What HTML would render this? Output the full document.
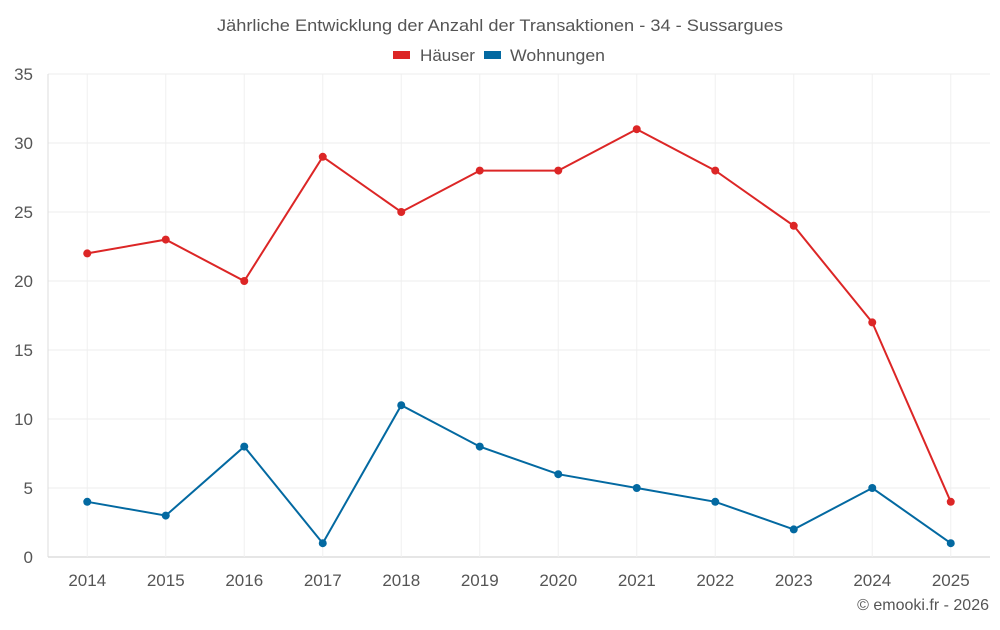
<!DOCTYPE html>
<html><head><meta charset="utf-8">
<style>
body{margin:0;background:#fff;width:1000px;height:625px;overflow:hidden;font-family:"Liberation Sans",sans-serif;}
svg text{font-family:"Liberation Sans",sans-serif;}
</style></head>
<body>
<svg id="chart" width="1000" height="625" viewBox="0 0 1000 625" xmlns="http://www.w3.org/2000/svg">
<text x="217" y="31" font-size="17" fill="#555" textLength="566" lengthAdjust="spacingAndGlyphs">Jährliche Entwicklung der Anzahl der Transaktionen - 34 - Sussargues</text>
<g>
<g><rect x="393" y="51" width="17" height="8" fill="#dc2626"/><text x="420" y="61" font-size="17" fill="#555" textLength="55" lengthAdjust="spacingAndGlyphs">Häuser</text></g>
<g><rect x="484" y="51" width="17" height="8" fill="#0369a1"/><text x="510" y="61" font-size="17" fill="#555" textLength="95" lengthAdjust="spacingAndGlyphs">Wohnungen</text></g>
</g>
<g id="grid"></g><g id="axes"></g><g id="series"></g>
<text x="989" y="610" text-anchor="end" font-size="16" fill="#555">© emooki.fr - 2026</text>
</svg>
<script>
const categories=["2014","2015","2016","2017","2018","2019","2020","2021","2022","2023","2024","2025"];
const haeuser=[22,23,20,29,25,28,28,31,28,24,17,4];
const wohnungen=[4,3,8,1,11,8,6,5,4,2,5,1];
const yTicks=[0,5,10,15,20,25,30,35];
const NS="http://www.w3.org/2000/svg";
const L=48,R=990,T=74,B=557,yMax=35;
const bw=(R-L)/categories.length;
const x=i=>L+bw*(i+0.5);
const y=v=>B-(v/yMax)*(B-T);
function mk(tag,attrs,parent){const e=document.createElementNS(NS,tag);for(const k in attrs)e.setAttribute(k,attrs[k]);parent.appendChild(e);return e;}
const grid=document.getElementById('grid'),axes=document.getElementById('axes'),series=document.getElementById('series');
yTicks.forEach(t=>{
 const ln=mk('line',{x1:L,x2:R,y1:y(t),y2:y(t),stroke:t===0?'#ccc':'#ececec','stroke-width':1},grid);
 
 
 const tx=mk('text',{x:33,y:y(t)+6,'text-anchor':'end','font-size':17,fill:'#555'},axes);
 tx.textContent=t;
 
 
});
categories.forEach((c,i)=>{
 const ln=mk('line',{x1:x(i),x2:x(i),y1:T,y2:B,stroke:'#f0f0f0','stroke-width':1},grid);
 
 
 const tx=mk('text',{x:x(i),y:586,'text-anchor':'middle','font-size':17,fill:'#555'},axes);
 tx.textContent=c;
 
 
});
const yl=mk('line',{x1:L,x2:L,y1:T,y2:B,stroke:'#ddd'},axes);


function drawSeries(vals,color,name){
 const p=mk('polyline',{points:vals.map((v,i)=>x(i)+','+y(v)).join(' '),fill:'none',stroke:color,'stroke-width':2},series);
 
 
 vals.forEach((v,i)=>{
  const c=mk('circle',{cx:x(i),cy:y(v),r:4,fill:color},series);
  
  
 });
}
drawSeries(haeuser,'#dc2626','haeuser');
drawSeries(wohnungen,'#0369a1','wohnungen');
</script>
</body></html>
